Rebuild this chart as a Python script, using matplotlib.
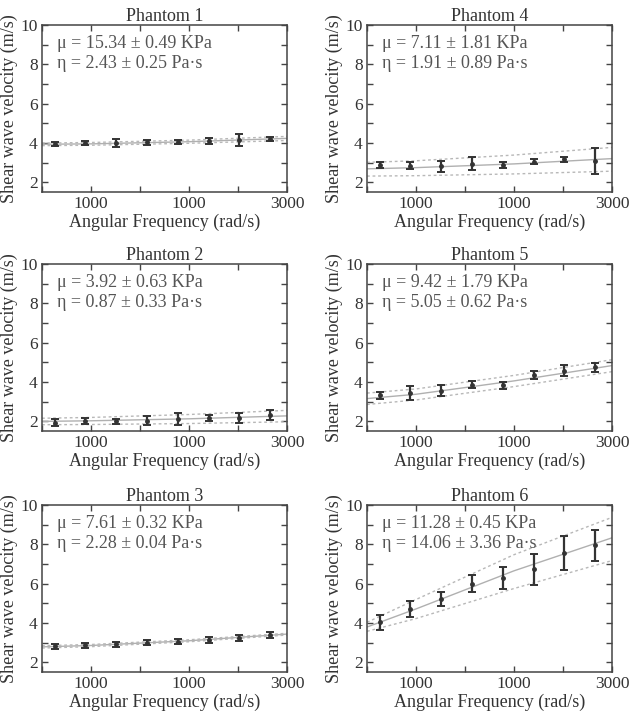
import matplotlib
matplotlib.use('Agg')
import matplotlib.pyplot as plt
from matplotlib.ticker import MultipleLocator

plt.rcParams['font.family'] = ['Liberation Serif', 'DejaVu Serif']

# angular frequencies of the measurements (rad/s)
omega = [628, 942, 1257, 1571, 1885, 2199, 2513, 2827]
# frequencies where the fit curves are sampled
fit_omega = [500, 1000, 2000, 3000]

titles = ['Phantom 1', 'Phantom 2', 'Phantom 3', 'Phantom 4', 'Phantom 5', 'Phantom 6']
mu_labels = ['μ = 15.34 ± 0.49 KPa', 'μ = 3.92 ± 0.63 KPa', 'μ = 7.61 ± 0.32 KPa',
             'μ = 7.11 ± 1.81 KPa', 'μ = 9.42 ± 1.79 KPa', 'μ = 11.28 ± 0.45 KPa']
eta_labels = ['η = 2.43 ± 0.25 Pa·s', 'η = 0.87 ± 0.33 Pa·s', 'η = 2.28 ± 0.04 Pa·s',
              'η = 1.91 ± 0.89 Pa·s', 'η = 5.05 ± 0.62 Pa·s', 'η = 14.06 ± 3.36 Pa·s']

# measured velocities and errors
p1_v = [3.95, 3.99, 3.98, 4.02, 4.05, 4.10, 4.13, 4.20]
p1_e = [0.12, 0.12, 0.20, 0.14, 0.10, 0.14, 0.30, 0.12]
p2_v = [1.93, 2.02, 2.00, 2.03, 2.10, 2.17, 2.18, 2.31]
p2_e = [0.16, 0.14, 0.13, 0.25, 0.30, 0.14, 0.26, 0.27]
p3_v = [2.80, 2.85, 2.92, 2.98, 3.05, 3.14, 3.25, 3.39]
p3_e = [0.13, 0.15, 0.13, 0.13, 0.15, 0.15, 0.15, 0.17]
p4_v = [2.87, 2.84, 2.80, 2.95, 2.89, 3.04, 3.16, 3.07]
p4_e = [0.17, 0.18, 0.30, 0.35, 0.15, 0.12, 0.13, 0.65]
p5_v = [3.31, 3.43, 3.56, 3.85, 3.82, 4.35, 4.57, 4.74]
p5_e = [0.19, 0.34, 0.29, 0.18, 0.16, 0.18, 0.29, 0.23]
p6_v = [4.03, 4.70, 5.23, 6.00, 6.28, 6.73, 7.57, 7.94]
p6_e = [0.37, 0.42, 0.36, 0.42, 0.57, 0.79, 0.87, 0.79]

# fitted curve and its bounds at fit_omega
p1_fit = [3.93, 3.95, 4.06, 4.23]
p1_hi = [3.99, 4.02, 4.14, 4.33]
p1_lo = [3.86, 3.88, 3.98, 4.12]
p2_fit = [1.99, 2.02, 2.12, 2.27]
p2_hi = [2.15, 2.19, 2.34, 2.55]
p2_lo = [1.82, 1.83, 1.88, 1.97]
p3_fit = [2.78, 2.85, 3.09, 3.43]
p3_hi = [2.84, 2.90, 3.14, 3.47]
p3_lo = [2.72, 2.79, 3.04, 3.38]
p4_fit = [2.68, 2.74, 2.93, 3.20]
p4_hi = [3.01, 3.09, 3.38, 3.77]
p4_lo = [2.31, 2.33, 2.42, 2.56]
p5_fit = [3.15, 3.37, 4.05, 4.83]
p5_hi = [3.43, 3.64, 4.33, 5.13]
p5_lo = [2.85, 3.08, 3.76, 4.52]
p6_fit = [3.79, 4.71, 6.65, 8.33]
p6_hi = [4.03, 5.19, 7.47, 9.37]
p6_lo = [3.57, 4.22, 5.75, 7.17]

panels = [
    (p1_v, p1_e, p1_fit, p1_hi, p1_lo),
    (p2_v, p2_e, p2_fit, p2_hi, p2_lo),
    (p3_v, p3_e, p3_fit, p3_hi, p3_lo),
    (p4_v, p4_e, p4_fit, p4_hi, p4_lo),
    (p5_v, p5_e, p5_fit, p5_hi, p5_lo),
    (p6_v, p6_e, p6_fit, p6_hi, p6_lo),
]

xtick_vals = [500, 1000, 1500, 2000, 2500, 3000]
xtick_text = ['', '1000', '', '1000', '', '3000']

W, H = 635, 716
fig = plt.figure(figsize=(W / 100, H / 100), dpi=100)

lefts = [42, 367]
tops = [25, 264, 505]
aw, ah = 245, 167

dark = '#333333'
for i, (v, e, fit, hi, lo) in enumerate(panels):
    col = i // 3
    row = i % 3
    ax = fig.add_axes([lefts[col] / W, 1 - (tops[row] + ah) / H, aw / W, ah / H])

    ax.plot(fit_omega, fit, color='#b0b0b0', lw=1.0)
    ax.plot(fit_omega, hi, color='#b8b8b8', lw=1.0, ls=(0, (2, 2)))
    ax.plot(fit_omega, lo, color='#b8b8b8', lw=1.0, ls=(0, (2, 2)))
    ax.errorbar(omega, v, yerr=e, fmt='o', ms=2.5, color=dark, ecolor=dark,
                elinewidth=1.6, capsize=3, capthick=1.4)

    ax.set_xlim(500, 3000)
    ax.set_ylim(1.5, 10)
    ax.set_xticks(xtick_vals)
    ax.set_xticklabels(xtick_text)
    ax.set_yticks([2, 4, 6, 8, 10])
    ax.yaxis.set_minor_locator(MultipleLocator(1))
    ax.tick_params(which='both', direction='in', top=True, right=True,
                   length=4, width=1, color='#444444', labelsize=12.5,
                   labelcolor=dark, pad=3)
    for s in ax.spines.values():
        s.set_color('#444444')
        s.set_linewidth(1.1)

    ax.set_title(titles[i], fontsize=13, color=dark, pad=3)
    ax.set_xlabel('Angular Frequency (rad/s)', fontsize=13, color=dark, labelpad=1)
    ax.set_ylabel('Shear wave velocity (m/s)', fontsize=13, color=dark, labelpad=2)
    ax.text(0.06, 0.89, mu_labels[i], transform=ax.transAxes, fontsize=13,
            color='#555555', va='center')
    ax.text(0.06, 0.77, eta_labels[i], transform=ax.transAxes, fontsize=13,
            color='#555555', va='center')

fig.savefig('out.png', dpi=100)
